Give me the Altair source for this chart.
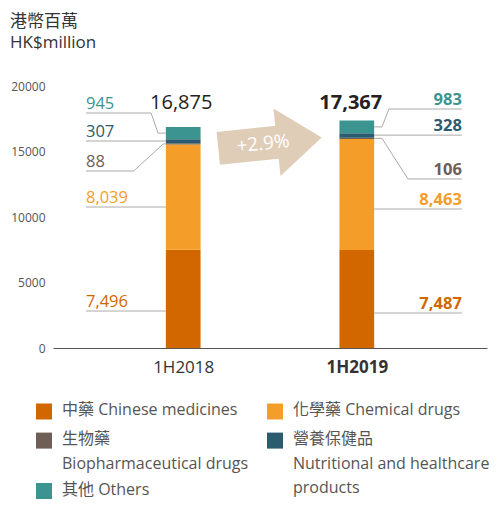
import altair as alt
import pandas as pd

FONT = "Open Sans, Noto Sans CJK TC, sans-serif"

# ---------------- data ----------------
periods = ["1H2018", "1H2019"]
series_names = ["Chinese medicines", "Chemical drugs", "Biopharmaceutical drugs",
                "Nutritional and healthcare products", "Others"]
values_1h2018 = [7496, 8039, 88, 307, 945]
values_1h2019 = [7487, 8463, 106, 328, 983]
totals = [16875, 17367]

bar_colors = ["#d26700", "#f49d28", "#6e5e55", "#2b5b6e", "#3c9490"]

legend_col0 = ["中藥 Chinese medicines", "生物藥", "Biopharmaceutical drugs", "其他 Others"]
legend_col1 = ["化學藥 Chemical drugs", "營養保健品", "Nutritional and healthcare", "products"]

# ---------------- layout ----------------
period_pos = [1.5, 3.5]
BAR_HALF = 0.2
level_1h2018 = [2824, 10763, 13511, 15800, 17939]   # leader line levels
level_1h2019 = [2672, 10611, 12901, 16250, 18244]
TOTAL_Y = 18700
ARROW_Y = 15650

values = [values_1h2018, values_1h2019]
levels = [level_1h2018, level_1h2019]

bar_rows, line_rows, label_rows = [], [], []
for p, per in enumerate(periods):
    pos = period_pos[p]
    side = -1 if p == 0 else 1
    edge = pos + side * BAR_HALF
    text_x = pos - 1.12 if p == 0 else pos + 1.21
    base = 0
    for i, s in enumerate(series_names):
        v = values[p][i]
        y0, y1 = base, base + v
        base = y1
        bar_rows.append(dict(period=per, series=s, x0=pos - BAR_HALF, x1=pos + BAR_HALF, y0=y0, y1=y1))
        L = levels[p][i]
        mid = (y0 + y1) / 2
        lid = f"{per}-{i}"
        if i == 4:
            k1, k2 = 0.17, 0.09
            pts = [(text_x, L), (edge + side * k1, L), (edge + side * k2, mid), (edge, mid)]
        elif i == 2:
            k1, k2 = (0.37, 0.03) if p == 0 else (0.39, 0.09)
            pts = [(text_x, L), (edge + side * k1, L), (edge + side * k2, mid), (edge, mid)]
        else:
            pts = [(text_x, L), (edge, L)]
        for k, (px, py) in enumerate(pts):
            line_rows.append(dict(lid=lid, k=k, x=px, y=py))
        label_rows.append(dict(period=per, series=s, x=text_x, y=L, text=f"{v:,}"))

df_bars = pd.DataFrame(bar_rows)
df_lines = pd.DataFrame(line_rows)
df_labels = pd.DataFrame(label_rows)
df_totals = pd.DataFrame(dict(period=periods, x=period_pos, y=[TOTAL_Y] * 2,
                              text=[f"{t:,}" for t in totals]))
growth = (totals[1] / totals[0] - 1) * 100
df_arrow = pd.DataFrame(dict(x=[sum(period_pos) / 2], y=[ARROW_Y], text=[f"+{growth:.1f}%"]))

color_scale = alt.Scale(domain=series_names, range=bar_colors)

label_expr = " : ".join(f"datum.value == {pos} ? '{per}'" for pos, per in zip(period_pos, periods)) + " : ''"

x_axis = alt.Axis(values=period_pos, labelExpr=label_expr, title=None, grid=False, ticks=False,
                  domainColor="#555", domainWidth=1, labelFontSize=17, labelColor="#333",
                  labelPadding=11, labelFont=FONT,
                  labelFontWeight={"condition": {"test": f"datum.value == {period_pos[1]}", "value": "bold"},
                                   "value": "normal"})
y_axis = alt.Axis(values=[0, 5000, 10000, 15000, 20000], format="d", title=None, grid=False,
                  ticks=False, domain=False, labelFontSize=12, labelColor="#555", labelPadding=8,
                  labelFont=FONT)

xs = alt.Scale(domain=[0, 5])
ys = alt.Scale(domain=[0, 20000])


def X(field):
    return alt.X(field, scale=xs, axis=x_axis)


def Y(field):
    return alt.Y(field, scale=ys, axis=y_axis)


bars = alt.Chart(df_bars).mark_bar().encode(
    x=X("x0:Q"), x2="x1:Q", y=Y("y0:Q"), y2="y1:Q",
    color=alt.Color("series:N", scale=color_scale, legend=None),
)

lines = alt.Chart(df_lines).mark_line(color="#aaaaaa", strokeWidth=1).encode(
    x=X("x:Q"), y=Y("y:Q"), detail="lid:N", order="k:Q",
)

left_labels = alt.Chart(df_labels[df_labels.period == periods[0]]).mark_text(
    align="left", baseline="alphabetic", dy=-4, fontSize=16.5, font=FONT).encode(
    x=X("x:Q"), y=Y("y:Q"),
    text="text:N", color=alt.Color("series:N", scale=color_scale, legend=None),
)
right_labels = alt.Chart(df_labels[df_labels.period == periods[1]]).mark_text(
    align="right", baseline="alphabetic", dy=-4, fontSize=16.5, fontWeight="bold", font=FONT).encode(
    x=X("x:Q"), y=Y("y:Q"),
    text="text:N", color=alt.Color("series:N", scale=color_scale, legend=None),
)

tot_left = alt.Chart(df_totals[df_totals.period == periods[0]]).mark_text(
    baseline="middle", dx=-2, fontSize=20, color="#222", font=FONT).encode(
    x=X("x:Q"), y=Y("y:Q"), text="text:N")
tot_right = alt.Chart(df_totals[df_totals.period == periods[1]]).mark_text(
    baseline="middle", dx=-6, fontSize=20, fontWeight="bold", color="#222", font=FONT).encode(
    x=X("x:Q"), y=Y("y:Q"), text="text:N")

ARROW_PATH = "M -1 -0.317 L 0.135 -0.317 L 0.135 -0.654 L 1 0 L 0.135 0.654 L 0.135 0.317 L -1 0.317 Z"
arrow = alt.Chart(df_arrow).mark_point(shape=ARROW_PATH, size=10816, angle=354, filled=True,
                                       color="#e0cdb7", opacity=1, strokeWidth=0).encode(
    x=X("x:Q"), y=Y("y:Q"))
arrow_text = alt.Chart(df_arrow).mark_text(angle=354, fontSize=19, color="white", dx=-7,
                                           baseline="middle", font=FONT).encode(
    x=X("x:Q"), y=Y("y:Q"), text="text:N")

main = alt.layer(bars, lines, left_labels, right_labels, tot_left, tot_right, arrow, arrow_text)

# ---------------- legend ----------------
line_slots = [0, 0.97, 1.8, 2.6, 2.68]
leg_sq = pd.DataFrame(dict(series=series_names, col=[0, 1, 0, 1, 0],
                           line=[0.05, 0.05, 1.02, 1.02, 2.7]))
leg_txt_rows = []
for t, sl in zip(legend_col0, [0, 1, 2, 4]):
    leg_txt_rows.append(dict(col=0, line=line_slots[sl], text=t))
for t, sl in zip(legend_col1, [0, 1, 2, 3]):
    leg_txt_rows.append(dict(col=1, line=line_slots[sl], text=t))
leg_txt = pd.DataFrame(leg_txt_rows)

lxs = alt.Scale(domain=[0, 1], range=[-9, 222])
lys = alt.Scale(domain=[0, 1], range=[324, 354])
leg_squares = alt.Chart(leg_sq).mark_square(size=256, opacity=1).encode(
    x=alt.X("col:Q", scale=lxs, axis=None), y=alt.Y("line:Q", scale=lys, axis=None),
    color=alt.Color("series:N", scale=color_scale, legend=None))
leg_text = alt.Chart(leg_txt).mark_text(align="left", baseline="middle", dx=18, fontSize=16,
                                        color="#555", font=FONT).encode(
    x=alt.X("col:Q", scale=lxs, axis=None), y=alt.Y("line:Q", scale=lys, axis=None), text="text:N")
legend = alt.layer(leg_squares, leg_text)

chart = alt.layer(main, legend).resolve_scale(x="independent", y="independent").properties(
    width=434, height=262,
    autosize=alt.AutoSizeParams(type="none"),
    padding={"left": 45, "top": 78, "right": 4, "bottom": 152},
    title=alt.Title(["港幣百萬", "HK$million"], anchor="start", frame="group", dx=-43, offset=28,
                    fontSize=17, fontWeight="normal", color="#333", lineHeight=21, font=FONT),
).configure_view(stroke=None)

chart.save("out.html", embed_options={"renderer": "svg", "actions": False})
